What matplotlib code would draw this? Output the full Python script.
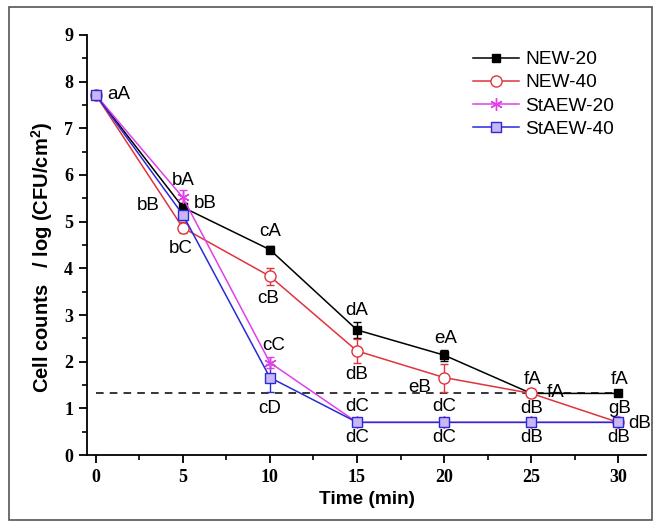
import matplotlib
matplotlib.use("Agg")
from matplotlib import pyplot as plt
from matplotlib.patches import Rectangle
from matplotlib.ticker import MultipleLocator

# data
time = [0, 5, 10, 15, 20, 25, 30]
new20 = [7.72, 5.31, 4.40, 2.68, 2.14, 1.32, 1.32]
new40 = [7.72, 4.87, 3.83, 2.23, 1.66, 1.32, 0.70]
staew20 = [7.72, 5.52, 1.98, 0.70, 0.70, 0.70, 0.70]
staew40 = [7.72, 5.15, 1.66, 0.70, 0.70, 0.70, 0.70]
new20_err = [0.03, 0.10, 0.08, 0.18, 0.12, 0.03, 0.03]
new40_err = [0.03, 0.12, 0.18, 0.25, 0.30, 0.03, 0.03]
staew20_err = [0.03, 0.15, 0.12, 0.03, 0.03, 0.03, 0.03]
staew40_err = [0.03, 0.12, 0.30, 0.03, 0.03, 0.03, 0.03]
detection_limit = 1.32

letters = ["aA", "bA", "bB", "bB", "bC", "cA", "cB", "cC", "cD",
           "dA", "dB", "dC", "dC", "eA", "eB", "dC", "dC",
           "fA", "fA", "dB", "dB", "fA", "gB", "dB", "dB"]
letter_x = [1.3, 5.0, 3.0, 6.3, 4.9, 10.0, 9.9, 10.2, 10.0,
            15.0, 15.0, 15.0, 15.0, 20.1, 18.6, 20.0, 20.0,
            25.1, 26.4, 25.0, 25.0, 30.1, 30.1, 31.2, 30.0]
letter_y = [7.72, 5.88, 5.35, 5.40, 4.42, 4.78, 3.36, 2.35, 1.00,
            3.09, 1.73, 1.04, 0.38, 2.50, 1.44, 1.04, 0.38,
            1.62, 1.33, 1.00, 0.38, 1.62, 1.00, 0.67, 0.38]

plt.rcParams['font.family'] = 'Liberation Sans'
plt.rcParams['mathtext.fontset'] = 'custom'
plt.rcParams['mathtext.rm'] = 'Liberation Sans'
plt.rcParams['mathtext.bf'] = 'Liberation Sans:bold'

fig = plt.figure(figsize=(6.61, 5.27), dpi=100)
ax = fig.add_axes([0.1316, 0.1366, 0.846, 0.797])
fig.patches.append(Rectangle((0.013, 0.014), 0.974, 0.972, transform=fig.transFigure,
                             fill=False, edgecolor='#555555', linewidth=1.2))

series = [
    (new20, new20_err, 'NEW-20', 'black', dict(marker='s', ms=6, mfc='black', mec='black')),
    (new40, new40_err, 'NEW-40', '#e0343c', dict(marker='o', ms=8, mfc='white', mec='#e0343c')),
    (staew20, staew20_err, 'StAEW-20', '#e040e8', dict(marker=(6, 2, 0), ms=9, mec='#e040e8')),
    (staew40, staew40_err, 'StAEW-40', '#2a2ad8', dict(marker='s', ms=7, mfc='#c9b6f5', mec='#2a2ad8')),
]

ax.plot([0, 30], [detection_limit, detection_limit], 'k--', lw=1.1, dashes=(5, 4), zorder=1)

for vals, err, name, col, mk in series:
    ax.errorbar(time, vals, yerr=err, fmt='none', ecolor=col, elinewidth=1, capsize=3, zorder=2)
    ax.plot(time, vals, color=col, lw=1.1, label=name, zorder=3, **mk)

for t, x, y in zip(letters, letter_x, letter_y):
    ax.text(x, y, t, ha='center', va='center', fontsize=13.5)

ax.set_xlim(-0.5, 31.6)
ax.set_ylim(0, 9)
ax.xaxis.set_major_locator(MultipleLocator(5))
ax.xaxis.set_minor_locator(MultipleLocator(2.5))
ax.yaxis.set_major_locator(MultipleLocator(1))
ax.yaxis.set_minor_locator(MultipleLocator(0.5))
ax.spines['top'].set_visible(False)
ax.spines['right'].set_visible(False)
for s in ['left', 'bottom']:
    ax.spines[s].set_linewidth(1.3)
ax.tick_params(which='major', direction='out', length=6, width=1.3, pad=4)
ax.tick_params(which='minor', direction='out', length=3.5, width=1.2)
for lab in ax.get_xticklabels() + ax.get_yticklabels():
    lab.set_fontfamily('Liberation Serif')
    lab.set_fontweight('bold')
    lab.set_fontsize(13)

ax.set_xlabel('Time (min)', fontsize=13.7, fontweight='bold', labelpad=4)
ax.set_ylabel(r'Cell counts   / log (CFU/cm$^{\bf 2}$)', fontsize=14.5, fontweight='bold')
ax.yaxis.set_label_coords(-0.058, 0.47)

ax.legend(loc='upper left', bbox_to_anchor=(0.674, 0.985), frameon=False, fontsize=13.8,
          handlelength=2.35, handletextpad=0.36, labelspacing=0.3, borderpad=0)

fig.savefig('out.png', dpi=100)
